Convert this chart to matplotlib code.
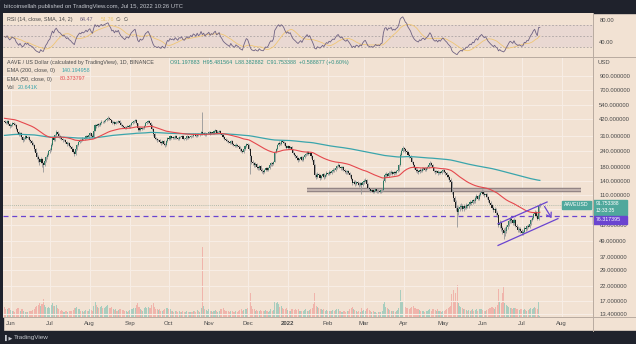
import numpy as np
import pandas as pd
import matplotlib
matplotlib.use("Agg")
import matplotlib.pyplot as plt
import matplotlib.dates as mdates
from matplotlib.patches import Rectangle, FancyArrowPatch
from matplotlib.lines import Line2D
from matplotlib.ticker import NullLocator

plt.rcParams['font.family'] = ['Liberation Sans', 'DejaVu Sans']

# ---- AAVE/USD daily data (Binance) ----
start_date = "2021-05-27"
first_open = 405.0

closes = [
    400, 392, 405, 386, 371, 380, 392, 384, 379, 352,
    335, 318, 329, 305, 291, 298, 312, 300, 306, 289,
    283, 276, 266, 248, 229, 215, 206, 197, 209, 192,
    187, 201, 214, 223, 238, 244, 268, 301, 289, 318,
    335, 322, 310, 306, 296, 288, 292, 281, 270, 275,
    262, 257, 246, 236, 227, 248, 266, 279, 291, 287,
    298, 294, 301, 312, 305, 318, 326, 314, 306, 342,
    379, 370, 384, 376, 393, 402, 396, 408, 414, 422,
    429, 418, 410, 395, 400, 388, 402, 396, 407, 392,
    380, 372, 366, 359, 368, 372, 366, 378, 392, 400,
    408, 414, 390, 359, 348, 362, 355, 359, 375, 392,
    398, 407, 395, 379, 352, 322, 301, 296, 288, 292,
    281, 275, 284, 272, 266, 284, 301, 296, 310, 302,
    306, 299, 311, 303, 296, 308, 306, 312, 298, 294,
    301, 310, 303, 306, 314, 309, 321, 318, 312, 325,
    316, 320, 335, 323, 330, 318, 326, 329, 336, 324,
    332, 329, 338, 344, 331, 335, 341, 326, 318, 306,
    298, 292, 286, 281, 275, 284, 272, 266, 261, 268,
    262, 257, 246, 240, 235, 248, 259, 270, 266, 248,
    219, 197, 192, 186, 190, 180, 176, 183, 172, 168,
    165, 170, 176, 172, 177, 186, 192, 189, 197, 235,
    248, 266, 276, 270, 284, 281, 274, 262, 252, 260,
    253, 257, 242, 231, 224, 218, 210, 204, 209, 214,
    205, 215, 222, 228, 235, 226, 231, 218, 205, 187,
    157, 152, 160, 155, 149, 153, 158, 150, 157, 163,
    159, 166, 162, 168, 172, 170, 177, 183, 187, 180,
    176, 179, 171, 167, 164, 168, 162, 155, 146, 136,
    139, 133, 138, 136, 131, 135, 131, 137, 141, 143,
    134, 124, 121, 118, 119, 116, 118, 121, 117, 118,
    116, 119, 120, 141, 157, 160, 154, 163, 162, 166,
    160, 164, 162, 168, 171, 185, 223, 241, 252, 246,
    238, 235, 224, 218, 211, 198, 187, 178, 172, 168,
    165, 172, 169, 175, 177, 171, 176, 180, 186, 194,
    188, 176, 169, 165, 168, 161, 166, 162, 167, 171,
    166, 161, 157, 150, 144, 138, 116, 104, 97, 88,
    81.5, 86, 89, 91, 85, 90, 87.5, 92, 90, 94,
    97, 95, 100, 98, 104, 107, 103, 110, 113, 116,
    112, 109, 111, 106, 100, 96, 92, 88, 84, 86,
    80, 77, 65, 67, 61, 59, 56, 58, 62, 65,
    69, 72, 70, 67, 71, 64, 62, 59, 60, 58,
    56, 57, 61, 60, 63, 62.5, 66, 70, 73, 78,
    81, 76, 72, 91.16, 91.75,
]

highs = [
    416, 409, 414, 410, 392, 388, 401, 398, 391, 384,
    360, 340, 337, 333, 311, 306, 319, 317, 314, 310,
    295, 289, 281, 271, 252, 234, 221, 212, 216, 213,
    198, 206, 220, 229, 244, 252, 274, 308, 310, 324,
    345, 340, 328, 317, 311, 300, 298, 296, 285, 280,
    279, 266, 261, 250, 240, 252, 271, 285, 297, 296,
    304, 303, 307, 318, 317, 323, 333, 331, 320, 348,
    386, 388, 391, 390, 399, 410, 408, 414, 421, 430,
    440, 434, 424, 415, 407, 404, 408, 409, 413, 411,
    396, 385, 377, 370, 373, 379, 377, 383, 398, 406,
    414, 422, 418, 393, 366, 368, 367, 364, 380, 398,
    405, 415, 412, 399, 383, 356, 326, 308, 302, 298,
    296, 287, 289, 288, 277, 289, 307, 306, 315, 314,
    312, 310, 316, 315, 308, 313, 314, 318, 316, 302,
    306, 315, 314, 311, 319, 318, 326, 326, 322, 330,
    329, 325, 340, 477, 336, 334, 331, 335, 342, 340,
    337, 337, 344, 350, 348, 340, 347, 345, 330, 322,
    310, 302, 296, 290, 285, 289, 288, 276, 270, 273,
    271, 266, 260, 250, 244, 252, 264, 276, 276, 270,
    251, 224, 203, 197, 195, 193, 184, 187, 186, 176,
    172, 174, 180, 179, 181, 190, 197, 196, 202, 240,
    254, 272, 283, 281, 291, 290, 285, 278, 266, 265,
    263, 262, 260, 246, 235, 228, 221, 214, 213, 219,
    217, 219, 227, 233, 240, 238, 236, 234, 221, 208,
    189, 162, 164, 163, 158, 157, 162, 161, 160, 167,
    166, 170, 169, 172, 176, 176, 181, 188, 192, 190,
    184, 183, 182, 175, 171, 172, 171, 165, 158, 149,
    143, 142, 141, 141, 139, 138, 137, 140, 145, 147,
    146, 136, 127, 124, 122, 121, 121, 124, 123, 121,
    120, 122, 124, 145, 161, 165, 163, 167, 168, 170,
    169, 168, 167, 172, 176, 190, 229, 248, 262, 258,
    251, 244, 239, 229, 222, 214, 201, 190, 181, 176,
    171, 176, 175, 179, 181, 180, 180, 184, 190, 199,
    197, 191, 179, 172, 172, 171, 169, 169, 171, 175,
    174, 169, 164, 160, 153, 147, 141, 119, 107, 100,
    92, 90, 93, 95, 93, 93, 92, 95, 94, 97,
    100, 99, 103, 102, 107, 111, 110, 113, 117, 121,
    119, 115, 114, 113, 108, 102, 98, 94, 90, 89,
    88, 83, 79, 70, 69, 63, 61, 62, 65, 68,
    72, 75, 74, 72, 73, 72, 66, 64, 62, 62,
    60, 59, 63, 63, 65, 66, 68, 72, 76, 80,
    84, 83, 78, 93, 95.48,
]

lows = [
    390, 384, 386, 380, 362, 364, 375, 377, 372, 345,
    326, 309, 312, 298, 282, 285, 294, 294, 296, 283,
    276, 268, 259, 240, 220, 206, 198, 188, 192, 180,
    165, 183, 197, 209, 219, 232, 240, 263, 283, 284,
    312, 316, 303, 298, 289, 281, 283, 275, 263, 265,
    256, 250, 240, 229, 220, 223, 244, 262, 274, 281,
    283, 288, 290, 296, 300, 301, 313, 308, 299, 303,
    338, 362, 364, 369, 371, 387, 389, 391, 402, 408,
    416, 410, 402, 386, 389, 380, 383, 390, 391, 385,
    372, 365, 358, 350, 353, 363, 359, 361, 373, 387,
    394, 402, 384, 340, 340, 343, 349, 350, 354, 370,
    387, 392, 389, 372, 345, 314, 294, 289, 280, 283,
    275, 268, 270, 266, 258, 262, 280, 290, 292, 297,
    298, 294, 295, 298, 291, 292, 301, 302, 293, 288,
    290, 297, 298, 299, 302, 304, 305, 312, 307, 308,
    311, 312, 316, 318, 318, 313, 314, 322, 325, 319,
    320, 324, 325, 334, 326, 327, 331, 321, 312, 300,
    292, 286, 280, 275, 269, 271, 266, 260, 255, 257,
    256, 251, 240, 234, 229, 231, 244, 255, 260, 242,
    160, 190, 185, 180, 181, 175, 170, 172, 167, 163,
    159, 161, 167, 168, 169, 174, 183, 184, 186, 195,
    230, 244, 262, 264, 266, 275, 268, 256, 246, 249,
    248, 249, 236, 225, 218, 212, 204, 198, 200, 205,
    200, 201, 212, 218, 224, 221, 222, 213, 200, 181,
    150, 146, 148, 150, 144, 146, 150, 146, 147, 154,
    155, 157, 158, 159, 165, 166, 167, 174, 179, 176,
    171, 172, 167, 162, 159, 160, 158, 151, 142, 132,
    133, 129, 130, 132, 127, 128, 112, 129, 134, 138,
    131, 121, 118, 115, 115, 113, 114, 116, 114, 114,
    113, 114, 116, 118, 138, 152, 150, 151, 157, 159,
    156, 157, 158, 160, 165, 169, 183, 218, 236, 240,
    232, 229, 219, 212, 206, 193, 181, 173, 166, 163,
    160, 162, 165, 166, 171, 167, 168, 173, 177, 183,
    184, 172, 165, 160, 162, 157, 158, 158, 159, 164,
    162, 157, 152, 146, 139, 133, 111, 99, 92, 82,
    62.5, 77, 83, 86, 82, 83, 85, 86, 87, 88,
    92, 92, 93, 95, 96, 102, 100, 101, 108, 111,
    109, 106, 106, 103, 97, 93, 89, 85, 81, 82,
    77, 74, 62, 61, 58, 55, 50, 53, 56, 60,
    63, 67, 67, 65, 65, 62, 60, 57, 57, 56,
    54, 54, 56, 58, 59, 61, 61, 65, 69, 72,
    76, 74, 70, 71, 88.38,
]

volumes_k = [
    180, 150, 140, 160, 170, 130, 120, 110, 100, 150, 170, 160, 120, 150, 140, 110, 100, 90, 95, 120,
    110, 120, 130, 150, 190, 210, 220, 260, 200, 240, 330, 220, 180, 170, 190, 160, 220, 260, 200, 210,
    230, 170, 140, 120, 130, 110, 100, 110, 120, 100, 115, 110, 120, 130, 160, 170, 180, 150, 140, 120,
    110, 100, 120, 130, 110, 120, 140, 130, 110, 200, 300, 230, 180, 170, 190, 200, 160, 170, 180, 200,
    220, 170, 160, 180, 140, 130, 140, 120, 130, 150, 140, 130, 130, 120, 110, 100, 110, 130, 140, 150,
    160, 170, 220, 260, 180, 150, 130, 120, 160, 180, 170, 190, 160, 170, 230, 260, 180, 150, 140, 130,
    140, 120, 110, 130, 150, 160, 170, 140, 150, 120, 110, 100, 120, 110, 100, 110, 100, 90, 110, 100,
    95, 110, 100, 90, 100, 95, 120, 110, 100, 130, 110, 100, 160, 1300, 200, 150, 130, 120, 140, 110,
    110, 100, 120, 130, 110, 100, 120, 140, 150, 160, 130, 120, 120, 110, 100, 120, 110, 100, 95, 110,
    100, 110, 130, 140, 120, 130, 150, 140, 160, 240, 450, 200, 150, 140, 120, 130, 120, 110, 130, 120,
    110, 120, 130, 110, 100, 120, 140, 120, 130, 300, 260, 270, 240, 190, 200, 160, 150, 150, 160, 130,
    120, 110, 140, 150, 130, 140, 130, 140, 120, 110, 120, 120, 130, 140, 120, 110, 130, 150, 170, 240,
    450, 210, 180, 160, 150, 140, 130, 140, 120, 130, 110, 120, 110, 120, 130, 110, 130, 140, 150, 120,
    110, 100, 120, 110, 100, 110, 120, 140, 160, 190, 150, 130, 110, 100, 110, 100, 170, 120, 130, 120,
    140, 160, 130, 120, 100, 110, 100, 90, 80, 90, 85, 100, 110, 240, 280, 180, 160, 140, 130, 120,
    110, 120, 100, 110, 130, 170, 500, 290, 270, 210, 180, 160, 170, 150, 160, 180, 200, 170, 160, 140,
    150, 130, 120, 110, 120, 100, 110, 120, 130, 140, 120, 140, 150, 130, 120, 140, 120, 110, 100, 110,
    120, 130, 140, 160, 190, 210, 420, 500, 290, 450, 600, 260, 200, 180, 170, 150, 140, 130, 120, 130,
    120, 130, 140, 120, 130, 140, 120, 150, 140, 150, 130, 120, 110, 130, 150, 160, 170, 180, 170, 150,
    190, 220, 520, 280, 260, 450, 550, 260, 220, 200, 180, 170, 160, 150, 170, 160, 150, 140, 130, 140,
    150, 130, 140, 130, 120, 130, 140, 160, 150, 170, 180, 160, 150, 280, 21,
]

# indicator starting states (values of the averages on the first bar)
ema200_start = 314.0
ema50_start = 427.0
rsi_seed_gain = 9.0
rsi_seed_loss = 9.0

price_ticks = [900, 700, 540, 420, 310, 240, 180, 140, 110, 85, 65, 49, 37, 29, 22, 17, 13.4]
rsi_ticks = [80, 40]
month_labels = ["Jun", "Jul", "Aug", "Sep", "Oct", "Nov", "Dec", "2022",
                "Feb", "Mar", "Apr", "May", "Jun", "Jul", "Aug"]
month_starts = pd.date_range("2021-06-01", "2022-08-01", freq="MS")

# drawing tools on the chart
support_level = 76.317395
resistance_level = 120.0
resistance_span = ("2022-01-16", "2022-08-16")
channel_upper = [("2022-06-12 16:00", 66.0), ("2022-07-20 14:00", 97.0)]
channel_lower = [("2022-06-12 16:00", 45.0), ("2022-07-29 00:00", 72.3)]
arrow_from = ("2022-07-17 12:00", 93.5)
arrow_to = ("2022-07-25 04:00", 70.0)

# ---- derived series ----
dates = pd.date_range(start_date, periods=len(closes), freq="D")
x = mdates.date2num(dates)
c = np.asarray(closes, float)
h = np.asarray(highs, float)
l = np.asarray(lows, float)
o = np.r_[first_open, c[:-1]]
v = np.asarray(volumes_k, float)
up = c >= o


def ema(values, span, start):
    s = pd.Series(np.r_[start, values])
    return s.ewm(span=span, adjust=False).mean().to_numpy()[1:]


ema200 = ema(c, 200, ema200_start)
ema50 = ema(c, 50, ema50_start)

diff = np.diff(np.r_[c[0], c])
ag, al = rsi_seed_gain, rsi_seed_loss
rsi = np.empty_like(c)
for i, dlt in enumerate(diff):
    ag = (ag * 13 + max(dlt, 0)) / 14
    al = (al * 13 + max(-dlt, 0)) / 14
    rsi[i] = 100 - 100 / (1 + ag / al)
rsi_sma = pd.Series(rsi).rolling(14, min_periods=1).mean().to_numpy()

# ---- figure ----
W, H = 636, 344
BG = "#f2e2d3"
DARK = "#1f222c"
GRID = "#f7ede5"
TXT = "#4a4a4a"
TEAL = "#3aa5ac"
RED = "#e5484d"
PURPLE = "#6a44d0"

fig = plt.figure(figsize=(W / 100, H / 100), dpi=100)
fig.patch.set_facecolor(BG)


def fx(px):
    return px / W


def fy(py):
    return 1 - py / H


def ftext(px, py, s, **kw):
    kw.setdefault("fontsize", 4.1)
    kw.setdefault("va", "center")
    kw.setdefault("ha", "left")
    return fig.text(fx(px), fy(py), s, transform=fig.transFigure, **kw)


# header and footer bands
fig.add_artist(Rectangle((0, fy(13)), 1, 1 - fy(13), transform=fig.transFigure,
                         color=DARK, zorder=0))
fig.add_artist(Rectangle((0, 0), 1, fy(331), transform=fig.transFigure,
                         color=DARK, zorder=0))
fig.add_artist(Rectangle((0, fy(331)), fx(2.5), fy(13) - fy(331),
                         transform=fig.transFigure, color=DARK, zorder=0))

xmin = x[0] - 1.16
xmax = x[0] + 455.1

# ---- RSI pane ----
ax_r = fig.add_axes([fx(3), fy(57), fx(593) - fx(3), fy(13) - fy(57)])
ax_r.set_facecolor(BG)
ax_r.set_xlim(xmin, xmax)
ax_r.set_ylim(12.7, 92.7)
ax_r.axhspan(30, 70, color="#8a63c9", alpha=0.08, lw=0)
for lvl in (70, 50, 30):
    ax_r.axhline(lvl, color="#a09a9a", lw=0.5, ls=(0, (2.5, 2.5)))
ax_r.plot(x, rsi_sma, color="#f0c674", lw=0.6)
ax_r.plot(x, rsi, color="#6e6282", lw=0.6)
ax_r.set_xticks([])
ax_r.yaxis.tick_right()
ax_r.set_yticks(rsi_ticks)
ax_r.set_yticklabels([f"{t:.2f}" for t in rsi_ticks])
ax_r.tick_params(axis="y", length=0, pad=4.5, labelsize=4.2, labelcolor=TXT)
for sp in ax_r.spines.values():
    sp.set_visible(False)

# ---- main price pane ----
ax_v = fig.add_axes([fx(3), fy(317), fx(593) - fx(3), fy(57) - fy(317)])
ax = fig.add_axes([fx(3), fy(317), fx(593) - fx(3), fy(57) - fy(317)], sharex=ax_v)
ax_v.set_facecolor(BG)
ax.patch.set_alpha(0)

# volume
ax_v.bar(x, v, width=0.8, color=np.where(up, "#6bbcae", "#ef8f8b"), alpha=0.55, lw=0)
ax_v.set_ylim(0, 4800)
ax_v.set_yticks([])
ax_v.tick_params(axis="x", length=0, labelbottom=False)
for sp in ax_v.spines.values():
    sp.set_visible(False)

ax.set_yscale("log")
ax.set_xlim(xmin, xmax)
ax.set_ylim(12.7, 1259)

for t in price_ticks:
    ax.axhline(t, color=GRID, lw=0.8, zorder=0)
for m in mdates.date2num(month_starts):
    ax.axvline(m, color=GRID, lw=0.8, zorder=0)

# levels
ax.axhline(support_level, color=PURPLE, lw=0.9, ls=(0, (4, 3)), zorder=2)
ax.axhline(c[-1], color="#9cae9f", lw=0.6, ls=(0, (1, 1.5)), zorder=2)
r0, r1 = mdates.date2num(pd.to_datetime(list(resistance_span)))
ax.plot([r0, r1], [resistance_level] * 2, color="#8e8080", lw=3.2,
        solid_capstyle="butt", zorder=3)
ax.plot([r0, r1], [resistance_level] * 2, color="#c3b4af", lw=1.6,
        solid_capstyle="butt", zorder=3)

# candles
ax.vlines(x, l, h, color="#9c9c9c", lw=0.65, zorder=4)
body_lo = np.minimum(o, c)
body_hi = np.maximum(o, c)
body_hi = np.maximum(body_hi, body_lo * 1.004)
ax.bar(x, body_hi - body_lo, bottom=body_lo, width=0.85,
       color=np.where(up, "#2f7a63", "#1d1d1d"), lw=0, zorder=5)

# moving averages
ax.plot(x, ema200, color=TEAL, lw=0.9, zorder=6)
ax.plot(x, ema50, color=RED, lw=0.8, zorder=6)

# channel and arrow
for seg in (channel_upper, channel_lower):
    xs = mdates.date2num(pd.to_datetime([p[0] for p in seg]))
    ax.plot(xs, [p[1] for p in seg], color=PURPLE, lw=0.9, zorder=7)
a0 = (mdates.date2num(pd.Timestamp(arrow_from[0])), arrow_from[1])
a1 = (mdates.date2num(pd.Timestamp(arrow_to[0])), arrow_to[1])
ax.add_patch(FancyArrowPatch(a0, a1, arrowstyle="->,head_length=3,head_width=2",
                             color=PURPLE, lw=0.9, zorder=7))

# axes ticks
ax.yaxis.tick_right()
ax.yaxis.set_minor_locator(NullLocator())
ax.set_yticks(price_ticks)
ax.set_yticklabels([f"{t:.6f}" for t in price_ticks])
ax.tick_params(axis="y", length=0, pad=4.5, labelsize=4.2, labelcolor=TXT)
# the 85 level sits under the last-price tag on the scale
for t, lab in zip(price_ticks, ax.get_yticklabels()):
    if t == 85:
        lab.set_visible(False)
ax.set_xticks(mdates.date2num(month_starts))
ax.set_xticklabels(month_labels)
ax.tick_params(axis="x", length=0, pad=3, labelsize=4.3, labelcolor=TXT)
for lab in ax.get_xticklabels():
    if lab.get_text() == "2022":
        lab.set_fontweight("bold")
for sp in ax.spines.values():
    sp.set_visible(False)

# pane separators
for (xa, ya, xb, yb) in [(3, 57, 636, 57), (3, 317, 636, 317), (593, 13, 593, 331)]:
    fig.add_artist(Line2D([fx(xa), fx(xb)], [fy(ya), fy(yb)], transform=fig.transFigure,
                          color="#b9aba0", lw=0.7))

# price-scale labels
ftext(597, 62, "USD", color=TXT, fontsize=4.2)
fig.add_artist(Rectangle((fx(593), fy(214.5)), fx(34), fy(199.5) - fy(214.5),
                         transform=fig.transFigure, color="#4fa89c"))
ftext(596, 203.0, "91.753388", color="white", fontsize=3.6)
ftext(596, 211.0, "13:33:35", color="white", fontsize=3.6)
fig.add_artist(Rectangle((fx(562), fy(209)), fx(29), fy(201) - fy(209),
                         transform=fig.transFigure, color="#4fa89c"))
ftext(564, 205, "AAVEUSD", color="white", fontsize=3.8)
fig.add_artist(Rectangle((fx(593), fy(223.5)), fx(34), fy(215.5) - fy(223.5),
                         transform=fig.transFigure, color=PURPLE))
ftext(596, 219.5, "76.317395", color="white", fontsize=3.8)

# legends
ftext(4, 6.5, "bitcoinsellah published on TradingView.com, Jul 15, 2022 10:26 UTC",
      color="#c4c7ce", fontsize=4.2)
ftext(7, 19.5, "RSI (14, close, SMA, 14, 2)", color=TXT, fontsize=3.9)
ftext(80, 19.5, "64.47", color="#6e6282", fontsize=3.9)
ftext(101, 19.5, "51.76", color="#e9c46a", fontsize=3.9)
ftext(116, 19.5, "\u2205  \u2205", color=TXT, fontsize=3.9)

ftext(7, 62.5, "AAVE / US Dollar (calculated by TradingView), 1D, BINANCE", color=TXT,
      fontsize=3.9)
ftext(170, 62.5, "O91.197883  H95.481564  L88.382882  C91.753388  +0.588877 (+0.60%)",
      color="#2e8f82", fontsize=3.9)
ftext(7, 70.5, "EMA (200, close, 0)", color=TXT, fontsize=3.9)
ftext(62, 70.5, "140.194958", color=TEAL, fontsize=3.9)
ftext(7, 79, "EMA (50, close, 0)", color=TXT, fontsize=3.9)
ftext(60, 79, "80.373797", color=RED, fontsize=3.9)
ftext(7, 87.5, "Vol", color=TXT, fontsize=3.9)
ftext(18, 87.5, "20.641K", color=TEAL, fontsize=3.9)

# footer logo
ftext(14, 337.5, "TradingView", color="#c4c7ce", fontsize=4.6)
ftext(5, 337.5, "\u258c\u25b6", color="#c4c7ce", fontsize=3.6)

fig.savefig("out.png", dpi=100, facecolor=BG)
